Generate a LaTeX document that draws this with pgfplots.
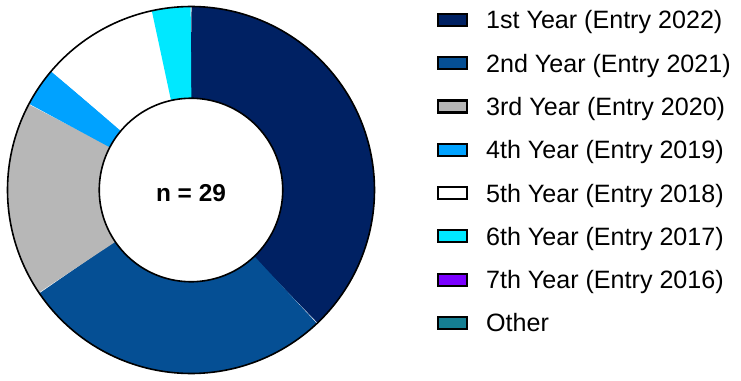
\documentclass[border=0pt]{standalone}
\usepackage{pgfplots}
\pgfplotsset{compat=1.18}
\usepackage{fontspec}
\setmainfont{Liberation Sans}
\definecolor{c1}{HTML}{002163}
\definecolor{c2}{HTML}{054F94}
\definecolor{c3}{HTML}{B7B7B7}
\definecolor{c4}{HTML}{00A2FF}
\definecolor{c5}{HTML}{FFFFFF}
\definecolor{c6}{HTML}{00E8FF}
\definecolor{c7}{HTML}{7A00FF}
\definecolor{c8}{HTML}{157F93}
\begin{document}
\begin{tikzpicture}
% counts per group
\def\nA{11}\def\nB{8}\def\nC{5}\def\nD{1}\def\nE{3}\def\nF{1}\def\nG{0}\def\nH{0}
\pgfmathsetmacro\N{\nA+\nB+\nC+\nD+\nE+\nF+\nG+\nH}
\pgfmathsetmacro\aA{90}
\pgfmathsetmacro\aB{\aA-360*\nA/\N}
\pgfmathsetmacro\aC{\aB-360*\nB/\N}
\pgfmathsetmacro\aD{\aC-360*\nC/\N}
\pgfmathsetmacro\aE{\aD-360*\nD/\N}
\pgfmathsetmacro\aF{\aE-360*\nE/\N}
\pgfmathsetmacro\aG{\aF-360*\nF/\N}
\def\ringw{45.875pt}
\path[use as bounding box] (0,0) rectangle (370.5pt,190.5pt);
\begin{axis}[
  at={(95.5pt,95.5pt)}, anchor=center,
  x=91.75pt, y=91.75pt,
  xmin=-1, xmax=1, ymin=-1, ymax=1,
  hide axis, clip=false,
  legend cell align=left,
  legend image code/.code={\draw[#1, draw=black, line width=1.1pt] (0.55pt,-3pt) rectangle (15pt,3pt);},
  legend style={at={(axis description cs:1.1703,0.9875)}, anchor=north west,
    draw=none, fill=none, inner sep=0pt, outer sep=0pt,
    row sep=12.74pt, column sep=9pt,
    font=\fontsize{12.55}{14}\selectfont,
    nodes={inner sep=0pt, text height=8.9pt, text depth=0pt}},
]
\addplot[forget plot, draw=c1, line width=\ringw, line cap=butt, line join=round, domain=\aB:\aA, samples=110, variable=\t] ({0.75*cos(\t)},{0.75*sin(\t)});
\addplot[forget plot, draw=c2, line width=\ringw, line cap=butt, line join=round, domain=\aC:\aB, samples=90, variable=\t] ({0.75*cos(\t)},{0.75*sin(\t)});
\addplot[forget plot, draw=c3, line width=\ringw, line cap=butt, line join=round, domain=\aD:\aC, samples=60, variable=\t] ({0.75*cos(\t)},{0.75*sin(\t)});
\addplot[forget plot, draw=c4, line width=\ringw, line cap=butt, line join=round, domain=\aE:\aD, samples=20, variable=\t] ({0.75*cos(\t)},{0.75*sin(\t)});
\addplot[forget plot, draw=c5, line width=\ringw, line cap=butt, line join=round, domain=\aF:\aE, samples=40, variable=\t] ({0.75*cos(\t)},{0.75*sin(\t)});
\addplot[forget plot, draw=c6, line width=\ringw, line cap=butt, line join=round, domain=\aG:\aF, samples=20, variable=\t] ({0.75*cos(\t)},{0.75*sin(\t)});
\addplot[forget plot, draw=black, line width=0.8pt, domain=0:360, samples=240, variable=\t] ({cos(\t)},{sin(\t)});
\addplot[forget plot, draw=black, line width=0.8pt, domain=0:360, samples=160, variable=\t] ({0.5*cos(\t)},{0.5*sin(\t)});
\addlegendimage{fill=c1}\addlegendentry{1st Year (Entry 2022)}
\addlegendimage{fill=c2}\addlegendentry{2nd Year (Entry 2021)}
\addlegendimage{fill=c3}\addlegendentry{3rd Year (Entry 2020)}
\addlegendimage{fill=c4}\addlegendentry{4th Year (Entry 2019)}
\addlegendimage{fill=c5}\addlegendentry{5th Year (Entry 2018)}
\addlegendimage{fill=c6}\addlegendentry{6th Year (Entry 2017)}
\addlegendimage{fill=c7}\addlegendentry{7th Year (Entry 2016)}
\addlegendimage{fill=c8}\addlegendentry{Other}
\node[font=\bfseries\fontsize{12.2}{14}\selectfont] at (axis cs:0,-0.016) {n = 29};
\end{axis}
\end{tikzpicture}
\end{document}
